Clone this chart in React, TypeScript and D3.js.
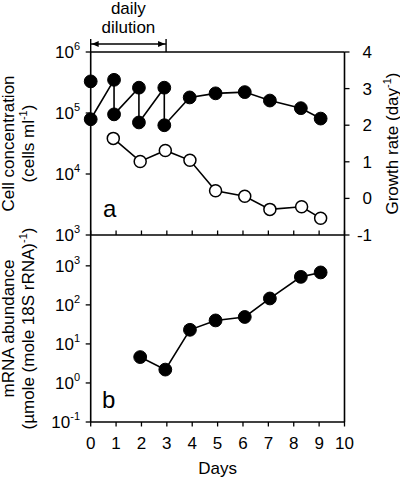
import React from "react";
import * as d3 from "d3";

const dayTicks = [0, 1, 2, 3, 4, 5, 6, 7, 8, 9, 10];
const cellExpTicks = [3, 4, 5, 6];
const rateTicks = [-1, 0, 1, 2, 3, 4];
const mrnaExpTicks = [-1, 0, 1, 2, 3];

// Cell concentration (filled circles, left axis, panel a) — connected sequence
const cellDays = [0, 0.92, 0.92, 1.9, 1.9, 2.9, 2.9, 3.9, 4.92, 6.07, 7.06, 8.28, 9.06];
const cellConc = [7.9e4, 3.5e5, 9.5e4, 2.6e5, 7.0e4, 2.6e5, 6.3e4, 1.8e5, 2.1e5, 2.2e5, 1.6e5, 1.2e5, 8.1e4];
// Initial concentration before first dilution (unconnected)
const cellStartDay = [0];
const cellStartConc = [3.3e5];

// Growth rate (open circles, right axis, panel a)
const rateDays = [0.89, 1.95, 2.94, 3.91, 4.92, 6.07, 7.06, 8.31, 9.06];
const rateVals = [1.64, 1.01, 1.31, 1.04, 0.21, 0.06, -0.3, -0.23, -0.54];

// mRNA abundance (filled circles, panel b)
const mrnaDays = [1.95, 2.94, 3.91, 4.92, 6.07, 7.06, 8.28, 9.06];
const mrnaVals = [4.6, 2.2, 23, 40, 49, 146, 522, 678];

const FONT = "'Liberation Sans', Arial, Helvetica, sans-serif";

export default function App() {
  const W = 400;
  const H = 477;
  const left = 90.7;
  const right = 344.5;
  const topA = 52;
  const botA = 235;
  const botB = 422;

  const x = d3.scaleLinear().domain([0, 10]).range([left, right]);
  const yA = d3.scaleLog().domain([1e3, 1e6]).range([botA, topA]);
  const yR = d3.scaleLinear().domain([-1, 4]).range([botA, topA]);
  const yB = d3.scaleLog().domain([0.1, Math.pow(10, 3.79)]).range([botB, botA]);

  const cellLine = d3
    .line<number>()
    .x((_, i) => x(cellDays[i]))
    .y((d) => yA(d));
  const rateLine = d3
    .line<number>()
    .x((_, i) => x(rateDays[i]))
    .y((d) => yR(d));
  const mrnaLine = d3
    .line<number>()
    .x((_, i) => x(mrnaDays[i]))
    .y((d) => yB(d));

  const sw = 1.6;
  const r = 6.4;
  const fs = 17;

  const bx0 = x(0);
  const bx1 = x(2.97);
  const by = 44;

  return (
    <svg
      width={W}
      height={H}
      style={{ position: "absolute", left: 0, top: 0, background: "#fff" }}
      fontFamily={FONT}
    >
      <rect width={W} height={H} fill="#fff" />
      {/* frame */}
      <g stroke="#000" strokeWidth={sw} fill="none">
        <line x1={left} x2={right} y1={topA} y2={topA} />
        <line x1={left} x2={left} y1={topA} y2={botB} />
        <line x1={right} x2={right} y1={topA} y2={botB} />
        <line x1={left} x2={right} y1={botA} y2={botA} />
        <line x1={left} x2={right} y1={botB} y2={botB} />
      </g>

      {/* x ticks panel a (inward) and panel b (outward) */}
      <g stroke="#000" strokeWidth={1.3}>
        {dayTicks.map((d) => (
          <line key={"ta" + d} x1={x(d)} x2={x(d)} y1={botA} y2={botA - 4.5} />
        ))}
        {dayTicks.map((d) => (
          <line key={"tb" + d} x1={x(d)} x2={x(d)} y1={botB} y2={botB + 4.5} />
        ))}
        {cellExpTicks.map((e) => (
          <line key={"lc" + e} x1={left - 5} x2={left} y1={yA(Math.pow(10, e))} y2={yA(Math.pow(10, e))} />
        ))}
        {mrnaExpTicks.map((e) => (
          <line key={"lm" + e} x1={left - 5} x2={left} y1={yB(Math.pow(10, e))} y2={yB(Math.pow(10, e))} />
        ))}
        {rateTicks.map((t) => (
          <line key={"rr" + t} x1={right} x2={right + 5} y1={yR(t)} y2={yR(t)} />
        ))}
      </g>

      {/* x tick labels */}
      <g fontSize={fs} textAnchor="middle" fill="#000">
        {dayTicks.map((d) => (
          <text key={"xl" + d} x={x(d)} y={449}>
            {d}
          </text>
        ))}
      </g>
      <text x={(left + right) / 2} y={474} fontSize={fs} textAnchor="middle">
        Days
      </text>

      {/* left tick labels */}
      <g fontSize={fs} textAnchor="end" fill="#000">
        {cellExpTicks.map((e) => (
          <text key={"cl" + e} x={80} y={yA(Math.pow(10, e)) + 6}>
            10
            <tspan fontSize={11} dy={-8}>
              {e}
            </tspan>
          </text>
        ))}
        {mrnaExpTicks.map((e) => (
          <text key={"ml" + e} x={80} y={yB(Math.pow(10, e)) + 6}>
            10
            <tspan fontSize={11} dy={-8}>
              {e}
            </tspan>
          </text>
        ))}
      </g>

      {/* right tick labels */}
      <g fontSize={fs} textAnchor="end" fill="#000">
        {rateTicks.map((t) => (
          <text key={"rl" + t} x={372} y={yR(t) + 6}>
            {t}
          </text>
        ))}
      </g>

      {/* axis titles */}
      <g fontSize={fs} textAnchor="middle" fill="#000">
        <text transform={`translate(13.5,${(topA + botA) / 2}) rotate(-90)`}>Cell concentration</text>
        <text transform={`translate(33.5,${(topA + botA) / 2}) rotate(-90)`}>
          (cells ml
          <tspan fontSize={11} dy={-7}>
            -1
          </tspan>
          <tspan dy={7}>)</tspan>
        </text>
        <text transform={`translate(13.5,${(botA + botB) / 2}) rotate(-90)`}>mRNA abundance</text>
        <text transform={`translate(34,${(botA + botB) / 2}) rotate(-90)`}>
          (µmole (mole 18S rRNA)
          <tspan fontSize={11} dy={-7}>
            -1
          </tspan>
          <tspan dy={7}>)</tspan>
        </text>
        <text transform={`translate(397.5,${(topA + botA) / 2}) rotate(-90)`}>
          Growth rate (day
          <tspan fontSize={11} dy={-7}>
            -1
          </tspan>
          <tspan dy={7}>)</tspan>
        </text>
      </g>

      {/* panel letters */}
      <text x={103} y={217} fontSize={24}>
        a
      </text>
      <text x={102} y={408} fontSize={24}>
        b
      </text>

      {/* daily dilution bracket */}
      <g stroke="#000" strokeWidth={1.4}>
        <line x1={bx0} x2={bx1} y1={by} y2={by} />
        <line x1={bx0} x2={bx0} y1={by - 5} y2={topA} />
        <line x1={bx1} x2={bx1} y1={by - 5} y2={topA} />
      </g>
      <path
        d={`M${bx0 + 1},${by} L${bx0 + 8},${by - 3} L${bx0 + 8},${by + 3} Z`}
        fill="#000"
      />
      <path
        d={`M${bx1 - 1},${by} L${bx1 - 8},${by - 3} L${bx1 - 8},${by + 3} Z`}
        fill="#000"
      />
      <g fontSize={fs} textAnchor="middle">
        <text x={(bx0 + bx1) / 2} y={14}>
          daily
        </text>
        <text x={(bx0 + bx1) / 2} y={33}>
          dilution
        </text>
      </g>

      {/* data lines */}
      <g fill="none" stroke="#000" strokeWidth={sw}>
        <path d={cellLine(cellConc) || ""} />
        <path d={rateLine(rateVals) || ""} />
        <path d={mrnaLine(mrnaVals) || ""} />
      </g>

      {/* markers */}
      <g fill="#000" stroke="#000" strokeWidth={1}>
        {cellConc.map((v, i) => (
          <circle key={"cc" + i} cx={x(cellDays[i])} cy={yA(v)} r={r} />
        ))}
        {cellStartConc.map((v, i) => (
          <circle key={"cs" + i} cx={x(cellStartDay[i])} cy={yA(v)} r={r} />
        ))}
        {mrnaVals.map((v, i) => (
          <circle key={"mm" + i} cx={x(mrnaDays[i])} cy={yB(v)} r={r} />
        ))}
      </g>
      <g fill="#fff" stroke="#000" strokeWidth={1.5}>
        {rateVals.map((v, i) => (
          <circle key={"rv" + i} cx={x(rateDays[i])} cy={yR(v)} r={r - 0.4} />
        ))}
      </g>
    </svg>
  );
}
